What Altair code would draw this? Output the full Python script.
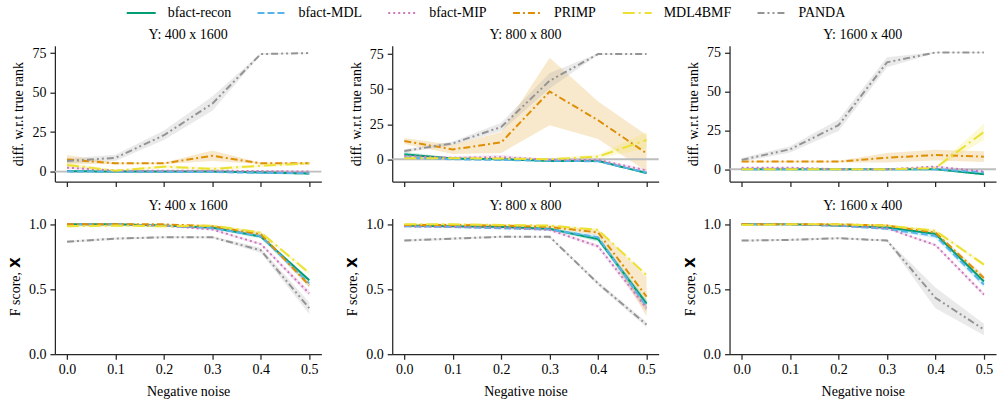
import altair as alt
import pandas as pd

NOISE = [0.0, 0.1, 0.2, 0.3, 0.4, 0.5]
METHODS = ["bfact-recon", "bfact-MDL", "bfact-MIP", "PRIMP", "MDL4BMF", "PANDA"]
COLORS = ["#029e73", "#56b4e9", "#cc78bc", "#de8f05", "#ece133", "#949494"]
DASHES = [[1, 0], [7, 3], [2, 3], [7, 3, 2, 3], [12, 4, 2, 4], [7, 3, 2, 3, 2, 3]]
PANEL_TITLES = ["Y: 400 x 1600", "Y: 800 x 800", "Y: 1600 x 400"]

# ---- top row: difference w.r.t. true rank (mean and CI half-width) ----
RANK_400x1600 = {
    "bfact-recon": [0.3, 0.0, 0.0, 0.0, -0.5, -1.2],
    "bfact-MDL": [0.0, 0.0, -0.2, -0.3, -0.8, -1.0],
    "bfact-MIP": [2.5, 0.6, 0.6, 0.6, 0.3, 0.0],
    "PRIMP": [7.7, 5.2, 5.2, 10.0, 5.2, 5.2],
    "MDL4BMF": [4.2, 0.6, 3.1, 1.7, 3.7, 5.2],
    "PANDA": [6.7, 8.7, 23.0, 43.0, 74.4, 75.0],
}
RANK_400x1600_CI = {
    "bfact-recon": [0.5, 0.3, 0.3, 0.3, 0.8, 1.0],
    "bfact-MDL": [0.4, 0.3, 0.3, 0.3, 0.6, 0.8],
    "bfact-MIP": [0.8, 0.5, 0.5, 0.5, 0.5, 0.5],
    "PRIMP": [2.8, 0.5, 0.5, 3.3, 0.5, 0.5],
    "MDL4BMF": [1.5, 0.5, 1.0, 1.0, 1.0, 1.0],
    "PANDA": [1.5, 2.0, 3.0, 4.5, 0.5, 0.3],
}
RANK_800x800 = {
    "bfact-recon": [3.5, 0.5, 0.0, -1.2, -1.2, -9.9],
    "bfact-MDL": [1.2, 0.0, -0.5, -1.0, -1.5, -9.5],
    "bfact-MIP": [2.4, 1.0, 1.5, -0.5, -0.5, -8.0],
    "PRIMP": [13.0, 7.0, 12.0, 48.3, 27.8, 4.2],
    "MDL4BMF": [0.7, 0.7, 0.5, 0.0, 1.9, 13.7],
    "PANDA": [5.9, 11.3, 23.0, 56.0, 75.0, 75.0],
}
RANK_800x800_CI = {
    "bfact-recon": [1.8, 0.6, 0.6, 0.6, 0.6, 0.8],
    "bfact-MDL": [0.8, 0.5, 0.5, 0.5, 0.5, 0.8],
    "bfact-MIP": [1.0, 1.0, 1.6, 0.6, 0.6, 1.0],
    "PRIMP": [2.2, 3.3, 7.5, 24.0, 13.3, 13.0],
    "MDL4BMF": [0.8, 0.8, 0.8, 0.8, 1.5, 5.8],
    "PANDA": [1.2, 1.3, 3.0, 5.5, 0.5, 0.3],
}
RANK_1600x400 = {
    "bfact-recon": [0.0, 0.0, 0.0, 0.0, 0.0, -3.2],
    "bfact-MDL": [0.0, 0.0, 0.0, 0.0, 0.0, -2.0],
    "bfact-MIP": [1.0, 1.0, 0.0, 0.0, 1.7, -1.5],
    "PRIMP": [4.9, 4.9, 4.9, 7.4, 9.1, 8.1],
    "MDL4BMF": [0.0, 0.0, 0.0, 0.0, 0.8, 24.0],
    "PANDA": [6.0, 12.8, 28.3, 68.7, 75.0, 75.0],
}
RANK_1600x400_CI = {
    "bfact-recon": [0.3, 0.3, 0.3, 0.3, 0.4, 0.6],
    "bfact-MDL": [0.3, 0.3, 0.3, 0.3, 0.4, 0.5],
    "bfact-MIP": [0.4, 0.4, 0.3, 0.3, 0.5, 0.5],
    "PRIMP": [0.5, 0.5, 0.5, 3.0, 3.5, 3.5],
    "MDL4BMF": [0.3, 0.3, 0.3, 0.3, 0.5, 5.2],
    "PANDA": [1.3, 2.0, 3.7, 3.2, 0.3, 0.3],
}

# ---- bottom row: F score of X (mean and CI half-width) ----
F_400x1600 = {
    "bfact-recon": [1.0, 1.0, 0.99, 0.975, 0.906, 0.57],
    "bfact-MDL": [1.0, 1.0, 0.99, 0.97, 0.91, 0.545],
    "bfact-MIP": [1.0, 1.0, 0.99, 0.96, 0.848, 0.468],
    "PRIMP": [1.0, 1.0, 1.0, 0.985, 0.924, 0.53],
    "MDL4BMF": [0.985, 0.99, 0.985, 0.99, 0.937, 0.625],
    "PANDA": [0.866, 0.89, 0.9, 0.9, 0.80, 0.354],
}
F_400x1600_CI = {
    "bfact-recon": [0.004, 0.004, 0.005, 0.008, 0.012, 0.015],
    "bfact-MDL": [0.005, 0.005, 0.006, 0.01, 0.02, 0.02],
    "bfact-MIP": [0.005, 0.005, 0.005, 0.008, 0.01, 0.02],
    "PRIMP": [0.005, 0.005, 0.005, 0.008, 0.015, 0.02],
    "MDL4BMF": [0.01, 0.01, 0.01, 0.008, 0.01, 0.015],
    "PANDA": [0.01, 0.008, 0.008, 0.008, 0.02, 0.045],
}
F_800x800 = {
    "bfact-recon": [0.99, 0.985, 0.98, 0.965, 0.886, 0.39],
    "bfact-MDL": [0.985, 0.98, 0.97, 0.96, 0.9, 0.367],
    "bfact-MIP": [0.985, 0.98, 0.975, 0.957, 0.83, 0.354],
    "PRIMP": [0.995, 0.995, 0.99, 0.98, 0.937, 0.443],
    "MDL4BMF": [1.0, 1.0, 0.995, 0.99, 0.957, 0.608],
    "PANDA": [0.875, 0.89, 0.904, 0.904, 0.544, 0.228],
}
F_800x800_CI = {
    "bfact-recon": [0.005, 0.005, 0.006, 0.008, 0.02, 0.03],
    "bfact-MDL": [0.01, 0.01, 0.01, 0.01, 0.02, 0.03],
    "bfact-MIP": [0.005, 0.005, 0.005, 0.008, 0.015, 0.03],
    "PRIMP": [0.005, 0.005, 0.005, 0.01, 0.02, 0.15],
    "MDL4BMF": [0.008, 0.008, 0.008, 0.008, 0.01, 0.015],
    "PANDA": [0.01, 0.008, 0.008, 0.008, 0.015, 0.02],
}
F_1600x400 = {
    "bfact-recon": [1.0, 1.0, 0.99, 0.975, 0.926, 0.56],
    "bfact-MDL": [1.0, 1.0, 0.99, 0.965, 0.91, 0.536],
    "bfact-MIP": [1.0, 1.0, 0.99, 0.97, 0.84, 0.46],
    "PRIMP": [1.0, 1.0, 1.0, 0.99, 0.936, 0.587],
    "MDL4BMF": [0.995, 1.0, 1.0, 0.99, 0.95, 0.69],
    "PANDA": [0.875, 0.88, 0.893, 0.875, 0.434, 0.19],
}
F_1600x400_CI = {
    "bfact-recon": [0.004, 0.004, 0.005, 0.008, 0.012, 0.015],
    "bfact-MDL": [0.005, 0.005, 0.005, 0.01, 0.02, 0.02],
    "bfact-MIP": [0.005, 0.005, 0.005, 0.008, 0.01, 0.015],
    "PRIMP": [0.005, 0.005, 0.005, 0.008, 0.012, 0.02],
    "MDL4BMF": [0.008, 0.008, 0.008, 0.008, 0.012, 0.015],
    "PANDA": [0.008, 0.008, 0.008, 0.008, 0.08, 0.045],
}

TOP_DOMAINS = [[-6.3, 79.6], [-15.9, 80.9], [-7.9, 79.3]]
BOTTOM_DOMAIN = [0.0, 1.045]

FONT = "Liberation Serif"
W, H = 267, 136

LEGEND = alt.Legend(
    orient="none",
    legendX=71,
    legendY=-48.5,
    direction="horizontal",
    symbolType="stroke",
    symbolSize=841,
    symbolStrokeWidth=2,
    labelFont=FONT,
    labelFontSize=14,
    labelColor="black",
    labelOffset=11,
    columnPadding=22,
    padding=0,
    title=None,
)


def make_df(means, cis):
    rows = []
    for m in METHODS:
        for i, x in enumerate(NOISE):
            v = means[m][i]
            c = cis[m][i]
            rows.append({"noise": x, "method": m, "value": v, "lo": v - c, "hi": v + c})
    return pd.DataFrame(rows)


def panel(means, cis, title, ytitle, ydomain, yticks, yfmt, bottom):
    df = make_df(means, cis)
    base = alt.Chart(df)
    x = alt.X(
        "noise:Q",
        scale=alt.Scale(domain=[-0.025, 0.525], nice=False, zero=False),
        axis=alt.Axis(
            values=NOISE,
            format=".1f",
            labels=bottom,
            title="Negative noise" if bottom else None,
            titlePadding=8,
        ),
    )
    yscale = alt.Scale(domain=ydomain, nice=False, zero=False)
    yaxis = alt.Axis(values=yticks, format=yfmt, title=ytitle)
    layers = []
    for m, c in zip(METHODS, COLORS):
        layers.append(
            base.transform_filter(alt.datum.method == m)
            .mark_area(opacity=0.2, clip=True, color=c)
            .encode(x=x, y=alt.Y("lo:Q", scale=yscale, axis=yaxis), y2="hi:Q")
        )
    if not bottom:
        zero = alt.Chart(pd.DataFrame({"value": [0.0]})).mark_rule(
            color="#bdbdbd", strokeWidth=1.8
        ).encode(y=alt.Y("value:Q"))
        layers.append(zero)
    lines = base.mark_line(strokeWidth=2, clip=True).encode(
        x=x,
        y=alt.Y("value:Q", scale=yscale, axis=yaxis),
        color=alt.Color("method:N", scale=alt.Scale(domain=METHODS, range=COLORS), legend=LEGEND),
        strokeDash=alt.StrokeDash("method:N", scale=alt.Scale(domain=METHODS, range=DASHES), legend=LEGEND),
    )
    layers.append(lines)
    return alt.layer(*layers).properties(width=W, height=H, title=title)


top_means = [RANK_400x1600, RANK_800x800, RANK_1600x400]
top_cis = [RANK_400x1600_CI, RANK_800x800_CI, RANK_1600x400_CI]
bot_means = [F_400x1600, F_800x800, F_1600x400]
bot_cis = [F_400x1600_CI, F_800x800_CI, F_1600x400_CI]

panels = []
for i in range(3):
    panels.append(panel(top_means[i], top_cis[i], PANEL_TITLES[i], "diff. w.r.t true rank",
                        TOP_DOMAINS[i], [0, 25, 50, 75], "d", False))
for i in range(3):
    panels.append(panel(bot_means[i], bot_cis[i], PANEL_TITLES[i], "F score, 𝗫",
                        BOTTOM_DOMAIN, [0.0, 0.5, 1.0], ".1f", True))

chart = alt.concat(
    *panels, columns=3, spacing={"row": 37, "column": 71}, bounds="flush", align="each"
).resolve_scale(
    y="independent", x="independent"
).properties(
    padding={"left": 8, "top": -3.5, "right": 3, "bottom": 0}
).configure_view(stroke=None).configure_axis(
    grid=False,
    domainColor="#262626",
    domainWidth=1.25,
    tickColor="#262626",
    tickWidth=1.25,
    tickSize=5,
    labelFont=FONT,
    labelFontSize=14,
    labelColor="black",
    labelPadding=3,
    titleFont=FONT,
    titleFontSize=14,
    titleFontWeight="normal",
    titleColor="black",
    titlePadding=4,
).configure_axisY(labelPadding=4, titlePadding=6).configure_title(
    font=FONT, fontSize=14, fontWeight="normal", color="black", offset=4
)

chart.save("out.html", embed_options={"renderer": "svg", "actions": False})
